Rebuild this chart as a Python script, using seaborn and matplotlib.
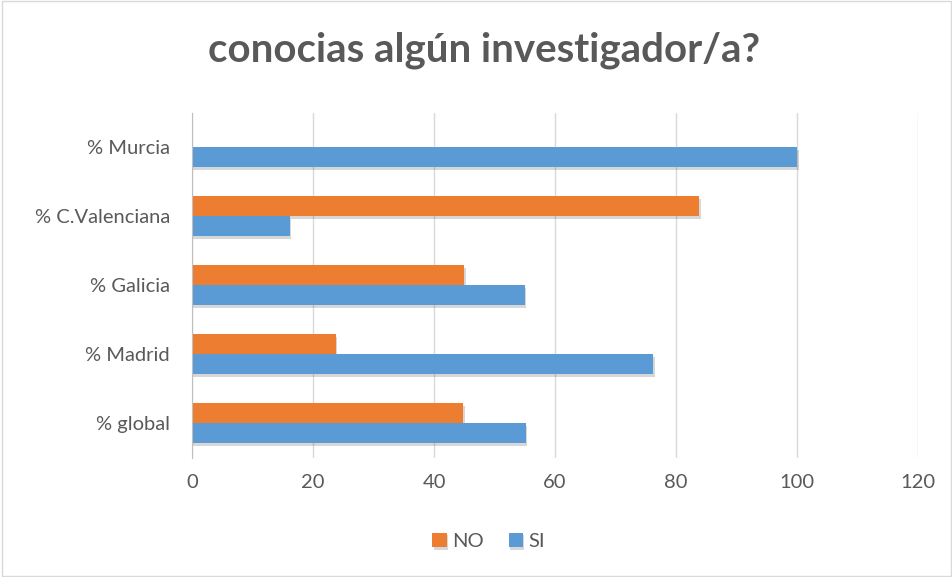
import matplotlib
matplotlib.use("Agg")
import matplotlib.pyplot as plt
import matplotlib.patheffects as pe
import seaborn as sns
import pandas as pd

# values
regions = ['% Murcia', '% C.Valenciana', '% Galicia', '% Madrid', '% global']
no_vals = [0, 83.8, 45.0, 23.8, 44.8]
si_vals = [100, 16.2, 55.0, 76.2, 55.2]
series = ['NO', 'SI']
colors = {'NO': '#ED7D31', 'SI': '#5B9BD5'}
x_ticks = [0, 20, 40, 60, 80, 100, 120]

df = pd.DataFrame({
    'region': regions * 2,
    'value': no_vals + si_vals,
    'serie': ['NO'] * len(regions) + ['SI'] * len(regions),
})

sns.set_style('white')
plt.rcParams['font.family'] = ['Lato', 'DejaVu Sans']
text_col = '#595959'

fig = plt.figure(figsize=(9.53, 5.77), dpi=100)
ax = fig.add_axes([0.2015, 0.207, 0.762, 0.598])

sns.barplot(data=df, y='region', x='value', hue='serie', order=regions,
            hue_order=series, palette=colors, orient='h', width=0.58,
            ax=ax, legend=True, saturation=1, linewidth=0)

# soft drop shadow like the office chart
for bar in ax.patches:
    bar.set_path_effects([pe.SimplePatchShadow(offset=(1, -2), alpha=0.25, shadow_rgbFace='#606060'),
                          pe.Normal()])

ax.set_xlim(0, 120)
ax.set_xticks(x_ticks)
ax.xaxis.grid(True, color='#d9d9d9', linewidth=1)
ax.set_axisbelow(True)
for s in ['top', 'right', 'bottom']:
    ax.spines[s].set_visible(False)
ax.spines['left'].set_color('#bfbfbf')
ax.tick_params(axis='both', length=0, labelsize=14.5, colors=text_col, pad=12)
ax.tick_params(axis='y', pad=16)
ax.set_xlabel(None)
ax.set_ylabel(None)

handles, labels = ax.get_legend_handles_labels()
ax.get_legend().remove()
fig.legend(handles, labels, loc='center', bbox_to_anchor=(0.513, 0.062), ncol=2,
           frameon=False, fontsize=14.5, labelcolor=text_col, handlelength=0.7,
           handleheight=0.7, handletextpad=0.3, columnspacing=1.2)

fig.text(0.508, 0.913, 'conocias algún investigador/a?', ha='center', va='center',
         fontsize=29, fontweight='bold', color=text_col)

fig.patches.append(plt.Rectangle((0.002, 0.002), 0.996, 0.996, transform=fig.transFigure,
                                 fill=False, edgecolor='#d9d9d9', linewidth=1))

fig.savefig('out.png', dpi=100)
